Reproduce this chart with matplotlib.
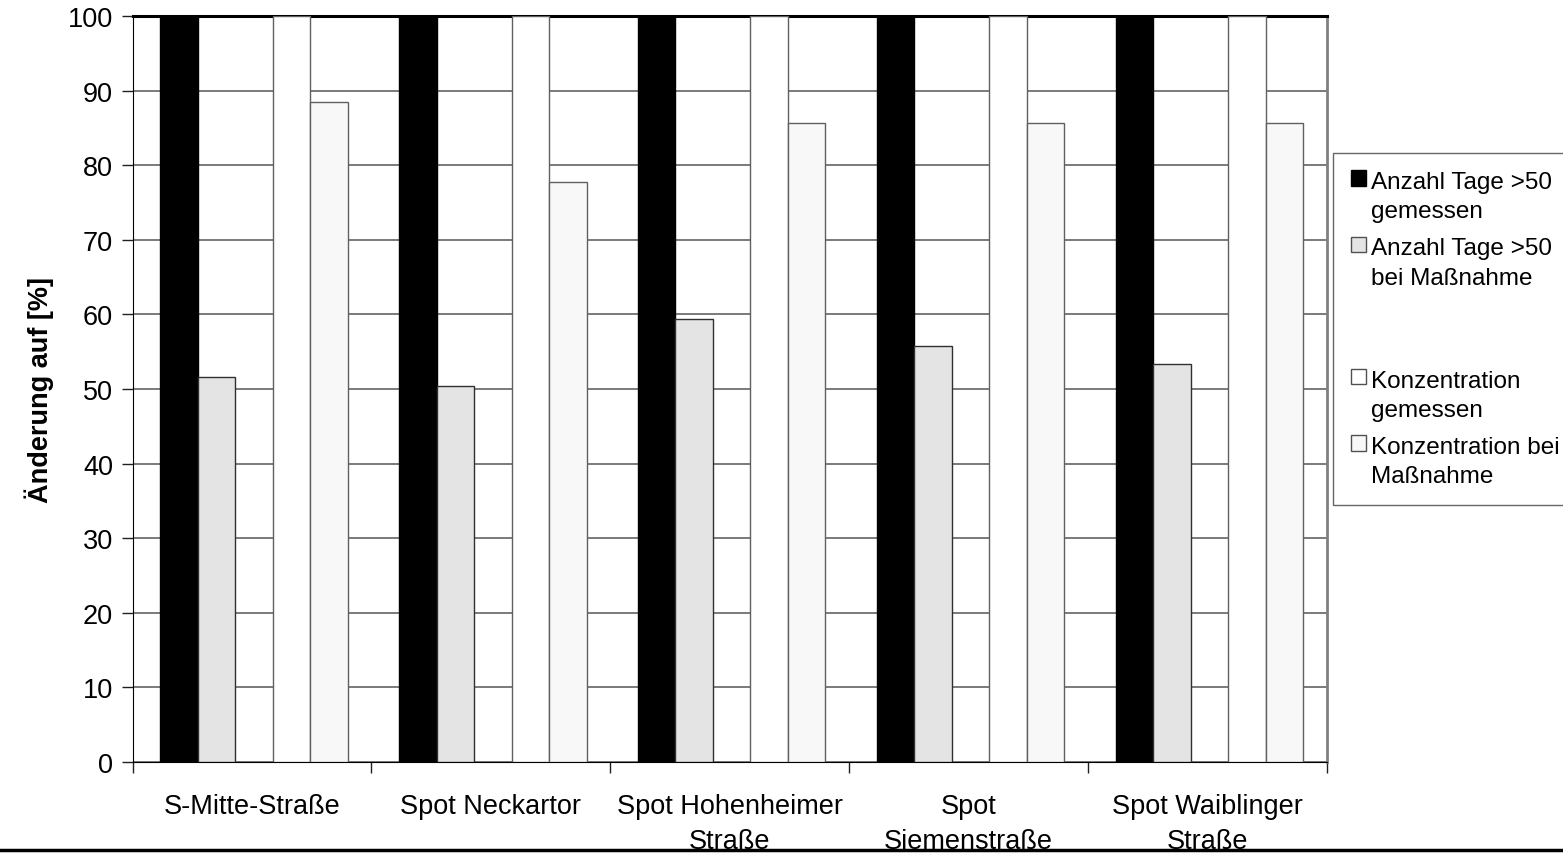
import numpy as np
import matplotlib.pyplot as plt
from matplotlib.patches import Patch, Rectangle
from matplotlib.lines import Line2D
from matplotlib.legend_handler import HandlerPatch

plt.rcParams["font.family"] = ["Liberation Sans", "DejaVu Sans"]
FS = 19.5
LEG_FS = 17.5

categories = ["S-Mitte-Straße", "Spot Neckartor", "Spot Hohenheimer\nStraße",
              "Spot\nSiemenstraße", "Spot Waiblinger\nStraße"]
tage_gemessen = [100, 100, 100, 100, 100]
tage_massnahme = [51.6, 50.4, 59.4, 55.8, 53.4]
konz_gemessen = [100, 100, 100, 100, 100]
konz_massnahme = [88.5, 77.7, 85.7, 85.6, 85.6]

fig = plt.figure(figsize=(15.63, 8.54), dpi=100)
ax = fig.add_axes([132.5 / 1563, 91 / 854, (1327 - 132.5) / 1563, 746 / 854])

x = np.arange(len(categories))
w = 0.157
shift = 0.008
series = [
    (tage_gemessen, "#000000", "#000000", -2),
    (tage_massnahme, "#e4e4e4", "#303030", -1),
    (konz_gemessen, "#ffffff", "#606060", 1),
    (konz_massnahme, "#f8f8f8", "#606060", 2),
]
for vals, fc, ec, off in series:
    ax.bar(x + off * w + shift, vals, width=w, color=fc, edgecolor=ec,
           linewidth=1.0, zorder=3)

ax.set_xlim(-0.5, len(categories) - 0.5)
ax.set_ylim(0, 100)
ax.set_yticks(np.arange(0, 101, 10))
ax.yaxis.grid(True, color="#707070", linewidth=1.3, zorder=0)
ax.set_axisbelow(True)

# category labels centred, ticks at the group boundaries
ax.set_xticks(x)
ax.set_xticklabels(categories, fontsize=FS, linespacing=1.45)
ax.tick_params(axis="x", length=0, pad=22)
ax.set_xticks(np.arange(-0.5, len(categories), 1), minor=True)
ax.tick_params(axis="x", which="minor", length=8, width=1, color="#202020")
ax.tick_params(axis="y", labelsize=FS, length=8, width=1, color="#202020", pad=6)

ax.spines["left"].set_color("#000000")
ax.spines["bottom"].set_color("#000000")
ax.spines["right"].set_color("#808080")
ax.spines["right"].set_linewidth(2.0)
ax.spines["top"].set_color("#000000")
ax.spines["top"].set_linewidth(2.2)

ax.set_ylabel("Änderung auf [%]", fontsize=FS, fontweight="bold", labelpad=10)


def top_square(legend, orig_handle, xdescent, ydescent, width, height, fontsize):
    # put the key square next to the first line of a two-line label
    return Rectangle((-xdescent, -ydescent + 0.77 * fontsize), width, height)


handles = [
    Patch(facecolor="#000000", edgecolor="#000000"),
    Patch(facecolor="#e4e4e4", edgecolor="#505050"),
    Patch(facecolor="none", edgecolor="none"),
    Patch(facecolor="#ffffff", edgecolor="#505050"),
    Patch(facecolor="#f8f8f8", edgecolor="#505050"),
]
labels = ["Anzahl Tage >50\ngemessen", "Anzahl Tage >50\nbei Maßnahme", " \n ",
          "Konzentration\ngemessen", "Konzentration bei\nMaßnahme"]
leg = fig.legend(handles, labels, loc="upper left",
                 bbox_to_anchor=(1333 / 1563, 1 - 154 / 854 - 0.01, 0.16, 0.01),
                 mode="expand", fontsize=LEG_FS, frameon=True, fancybox=False,
                 handlelength=0.6, handleheight=0.6, handletextpad=0.2,
                 labelspacing=0.62, borderpad=0.75, borderaxespad=0,
                 handler_map={Patch: HandlerPatch(patch_func=top_square)})
leg.get_frame().set_edgecolor("#404040")
leg.get_frame().set_linewidth(1.0)
for t in leg.get_texts():
    t.set_linespacing(1.42)

fig.add_artist(Line2D([0, 1], [0.003, 0.003], color="black", linewidth=2.5,
                      transform=fig.transFigure))

fig.savefig("out.png", dpi=100)
